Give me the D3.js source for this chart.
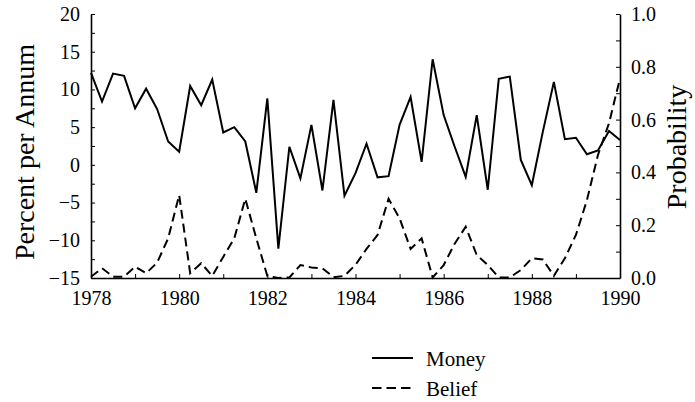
<!DOCTYPE html>
<html>
<head>
  <meta charset="utf-8">
  <title>Money and Belief</title>
  <script src="https://d3js.org/d3.v7.min.js"></script>
  <style>
    body { margin: 0; background: #fff; }
  </style>
</head>
<body>
  <div id="chart"></div>
  <script>
    // quarterly observations, 1978Q1 .. 1990Q1
    const quarters = d3.range(49).map(i => 1978 + i / 4);

    const money = [
      12.2, 8.4, 12.1, 11.8,
      7.5, 10.1, 7.4, 3.1,
      1.75, 10.45, 7.9, 11.3,
      4.3, 5.0, 3.1, -3.7,
      8.8, -11.1, 2.4, -1.8,
      5.3, -3.4, 8.6, -4.1,
      -1.1, 2.8, -1.65, -1.5,
      5.3, 9.0, 0.4, 14.0,
      6.6, 2.4, -1.6, 6.6,
      -3.3, 11.4, 11.7, 0.65,
      -2.7, 4.4, 11.0, 3.4,
      3.6, 1.4, 1.9, 4.5,
      3.3
    ];

    const belief = [
      0.005, 0.037, 0.005, 0.005,
      0.043, 0.018, 0.058, 0.15,
      0.314, 0.018, 0.056, 0.008,
      0.08, 0.15, 0.30, 0.15,
      0.008, 0.0, 0.002, 0.049,
      0.04, 0.037, 0.003, 0.008,
      0.05, 0.11, 0.163, 0.30,
      0.226, 0.11, 0.15, 0.002,
      0.049, 0.13, 0.194, 0.087,
      0.049, 0.002, 0.002, 0.03,
      0.075, 0.07, 0.008, 0.075,
      0.163, 0.295, 0.466, 0.586,
      0.756
    ];

    const yearTicks = [1978, 1980, 1982, 1984, 1986, 1988, 1990];
    const leftTicks = [-15, -10, -5, 0, 5, 10, 15, 20];
    const rightTicks = [0, 0.2, 0.4, 0.6, 0.8, 1.0];
    const legendLabels = ["Money", "Belief"];

    const serif = "'Liberation Serif', 'Tinos', 'Nimbus Roman', 'Nimbus Roman No9 L', 'FreeSerif', 'Noto Serif', 'DejaVu Serif', 'Times New Roman', Times, serif";
    const width = 695, height = 402;
    const mLeft = 91, mRight = 620, mTop = 14, mBottom = 278;

    const svg = d3.select("#chart").append("svg")
      .attr("width", width)
      .attr("height", height)
      .style("font-family", serif);

    const x = d3.scaleLinear().domain([1978, 1990]).range([mLeft, mRight]);
    const yL = d3.scaleLinear().domain([-15, 20]).range([mBottom, mTop]);
    const yR = d3.scaleLinear().domain([0, 1]).range([mBottom, mTop]);

    // minor inward ticks
    const minorX = svg.append("g")
      .attr("transform", `translate(0,${mBottom})`)
      .call(d3.axisBottom(x).tickValues(d3.range(1978, 1991)).tickSize(-4).tickSizeOuter(0).tickFormat(""));
    const minorL = svg.append("g")
      .attr("transform", `translate(${mLeft},0)`)
      .call(d3.axisLeft(yL).tickValues(d3.range(-15, 20.1, 2.5)).tickSize(-4).tickSizeOuter(0).tickFormat(""));
    const minorR = svg.append("g")
      .attr("transform", `translate(${mRight},0)`)
      .call(d3.axisRight(yR).tickValues(d3.range(0, 1.01, 0.1)).tickSize(-4).tickSizeOuter(0).tickFormat(""));
    [minorX, minorL, minorR].forEach(g => {
      g.select(".domain").attr("stroke", "#000").attr("stroke-width", 1.6);
      g.selectAll(".tick line").attr("stroke", "#000").attr("stroke-width", 1);
    });

    // labelled axes
    const xAxis = svg.append("g")
      .attr("transform", `translate(0,${mBottom})`)
      .call(d3.axisBottom(x).tickValues(yearTicks).tickSize(0).tickPadding(13).tickFormat(d3.format("d")));
    const lAxis = svg.append("g")
      .attr("transform", `translate(${mLeft},0)`)
      .call(d3.axisLeft(yL).tickValues(leftTicks).tickSize(0).tickPadding(11));
    const rAxis = svg.append("g")
      .attr("transform", `translate(${mRight},0)`)
      .call(d3.axisRight(yR).tickValues(rightTicks).tickSize(0).tickPadding(11).tickFormat(d3.format(".1f")));
    [xAxis, lAxis, rAxis].forEach(g => {
      g.attr("font-family", null).attr("font-size", null);
      g.select(".domain").remove();
      g.selectAll("text")
        .style("font-family", serif)
        .style("font-size", "20px")
        .attr("fill", "#000");
    });

    // lines
    const moneyLine = d3.line().x((d, i) => x(quarters[i])).y(d => yL(d));
    const beliefLine = d3.line().x((d, i) => x(quarters[i])).y(d => yR(d));

    svg.append("path")
      .datum(money)
      .attr("d", moneyLine)
      .attr("fill", "none")
      .attr("stroke", "#000")
      .attr("stroke-width", 2)
      .attr("stroke-linejoin", "miter");

    svg.append("path")
      .datum(belief)
      .attr("d", beliefLine)
      .attr("fill", "none")
      .attr("stroke", "#000")
      .attr("stroke-width", 2)
      .attr("stroke-dasharray", "9,5");

    // axis titles
    svg.append("text")
      .attr("transform", `translate(34,${(mTop + mBottom) / 2 + 6}) rotate(-90)`)
      .attr("text-anchor", "middle")
      .style("font-family", serif)
      .style("font-size", "28px")
      .text("Percent per Annum");

    svg.append("text")
      .attr("transform", `translate(686,${(mTop + mBottom) / 2 + 1}) rotate(-90)`)
      .attr("text-anchor", "middle")
      .style("font-family", serif)
      .style("font-size", "28px")
      .text("Probability");

    // legend
    const legend = svg.append("g").attr("transform", "translate(372,358)");
    legendLabels.forEach((name, i) => {
      const row = legend.append("g").attr("transform", `translate(0,${i * 30})`);
      row.append("line")
        .attr("x1", 0).attr("x2", 41)
        .attr("stroke", "#000")
        .attr("stroke-width", 2)
        .attr("stroke-dasharray", i === 1 ? "9.5,5" : null);
      row.append("text")
        .attr("x", 54).attr("y", 8)
        .style("font-family", serif)
        .style("font-size", "21px")
        .text(name);
    });
  </script>
</body>
</html>
